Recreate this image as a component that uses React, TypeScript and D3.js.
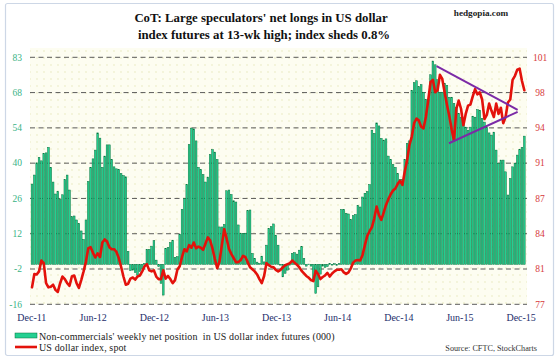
import * as d3 from 'd3';

// weekly CoT readings, first report 6 Dec 2011
const START = new Date(2011, 11, 6);

// non-commercials' net position in US dollar index futures (000)
const netLongs = [
  32.2, 35.8, 40.7, 42.9, 41.5, 44.5, 44.7, 46.9, 38.9, 33.0,
  28.2, 29.2, 26.0, 27.9, 34.0, 35.8, 29.8, 19.1, 19.4, 17.8,
  16.4, 13.4, 10.0, 17.8, 33.2, 38.9, 42.3, 45.8, 52.7, 50.6,
  38.9, 43.4, 47.9, 47.9, 42.0, 39.1, 38.3, 38.0, 36.4, 35.6,
  35.1, 5.2, -2.5, -2.3, -3.3, -4.3, -2.9, -1.6, 0.4, 6.0,
  6.0, 7.3, 9.5, 1.7, -0.9, -7.6, -12.3, 6.4, 6.8, 8.7,
  9.7, 2.8, 3.1, 12.1, 22.0, 26.3, 32.0, 48.0, 54.6, 54.3,
  49.5, 38.9, 38.0, 36.0, 33.0, 35.0, 44.0, 46.0, 45.0, 42.0,
  15.0, 15.0, 16.0, 29.5, 29.8, 28.0, 25.5, 25.0, 15.8, 12.5,
  12.4, 12.5, 21.5, 21.8, 4.4, 2.4, 0.9, 0.4, 3.3, 1.0,
  7.7, 14.4, 15.1, 16.2, 11.7, 7.7, -0.3, -5.0, -3.6, -2.3,
  -0.3, 4.4, 4.7, 4.1, 5.7, 7.1, 2.4, -0.7, 0.1, -0.7,
  -6.3, -11.6, -9.0, -3.9, -0.7, -1.2, -0.9, 0.3, -0.3, 0.3,
  -0.4, 0.3, 22.0, 22.0, 20.5, 20.2, 18.0, 19.5, 20.0, 23.6,
  23.0, 27.0, 28.5, 29.2, 32.0, 53.8, 52.5, 56.7, 55.5, 50.5,
  49.8, 50.3, 43.4, 42.0, 40.0, 38.9, 36.4, 34.0, 34.0, 42.0,
  48.5, 49.5, 69.8, 72.8, 73.6, 71.2, 72.0, 69.0, 66.2, 66.0,
  76.0, 81.5, 80.0, 74.0, 69.0, 69.0, 72.5, 71.8, 67.0, 67.0,
  64.5, 63.0, 60.5, 59.0, 56.5, 55.0, 53.8, 55.0, 59.4, 59.0,
  62.0, 61.8, 58.5, 57.0, 54.9, 52.7, 51.8, 53.0, 45.8, 40.5,
  41.8, 41.8, 37.1, 27.8, 34.4, 39.1, 40.5, 43.8, 46.0, 46.9,
  51.4,
];

// US dollar index, spot
const dollarIndex = [
  78.65, 79.95, 79.9, 80.2, 81.25, 81.0, 79.05, 78.65, 78.7, 78.9,
  78.4, 78.2, 79.05, 79.7, 79.45, 79.05, 78.8, 79.7, 79.8, 79.05,
  78.6, 79.35, 80.2, 81.15, 82.45, 82.55, 82.0, 81.55, 81.95, 81.6,
  83.0, 83.3, 83.1, 82.55, 82.35, 82.35, 82.1, 81.5, 80.65, 79.7,
  78.9, 79.0, 79.5, 79.6, 79.4, 79.7, 79.8, 80.2, 80.7, 80.9,
  80.3, 80.2, 80.3, 79.7, 79.45, 79.45, 80.3, 79.5, 79.75, 79.45,
  79.05, 79.35, 80.35, 80.7, 81.6, 82.35, 82.15, 82.75, 82.5, 83.0,
  82.45, 82.6, 82.5, 82.3, 82.9, 83.5, 83.2, 82.4, 81.4, 80.5,
  81.2, 82.8, 84.3, 83.4, 82.4, 81.9, 81.5, 81.1, 81.1, 81.3,
  81.7, 81.6, 81.1, 80.6, 80.4, 80.2, 79.9, 79.45, 79.05, 79.75,
  81.0, 80.8, 80.65, 80.6, 80.35, 80.2, 80.35, 80.6, 80.8, 80.9,
  81.0, 81.25, 81.05, 80.85, 80.6, 80.25, 80.0, 79.75, 79.6, 79.35,
  79.25, 80.25, 79.95, 79.45, 79.65, 79.8, 80.05, 79.7, 80.0, 80.2,
  80.35, 80.35, 80.4, 80.1, 79.95, 80.1, 80.5, 81.05, 81.25, 81.3,
  81.25, 81.8, 82.75, 83.65, 84.1, 84.5, 85.35, 86.5, 85.65, 85.2,
  85.9, 86.65, 87.2, 87.7, 88.05, 88.25, 88.7, 89.0, 88.6, 89.9,
  91.0, 92.5, 93.3, 94.6, 95.05, 94.85, 94.25, 94.1, 95.2, 96.8,
  98.6, 98.8, 97.6, 97.8, 99.3, 98.9, 97.6, 96.4, 95.3, 94.0,
  92.9, 96.0, 96.8, 96.0, 94.4, 95.5, 96.3, 96.4, 97.2, 97.9,
  97.4, 97.6, 96.9, 95.0, 95.4, 96.5, 95.8, 95.2, 96.5, 95.5,
  96.1, 94.6, 95.2, 96.6, 96.9, 98.8, 99.2, 99.8, 99.9, 98.7,
  97.8,
];

// converging trendlines drawn on the index
const wedgeUpper = [
  { date: new Date(2015, 2, 28), value: 100.15 },
  { date: new Date(2015, 10, 25), value: 95.9 },
];
const wedgeLower = [
  { date: new Date(2015, 4, 4), value: 92.65 },
  { date: new Date(2015, 10, 25), value: 95.7 },
];

const leftTickLabels = ['-16', '-2', '12', '26', '40', '54', '68', '83'];
const rightTickLabels = ['77', '81', '84', '87', '91', '94', '98', '101'];
const xTickDates = [
  new Date(2011, 11, 1), new Date(2012, 5, 1), new Date(2012, 11, 1),
  new Date(2013, 5, 1), new Date(2013, 11, 1), new Date(2014, 5, 1),
  new Date(2014, 11, 1), new Date(2015, 5, 1), new Date(2015, 11, 1),
];

const W = 560;
const H = 363;
const plot = { left: 30, right: 527, top: 57.3, bottom: 304.3 };
const FONT = '"Liberation Serif", "Times New Roman", serif';

interface Point {
  date: Date;
  value: number;
}

export default function App() {
  const weeks = netLongs.map((_, i) => d3.timeWeek.offset(START, i));

  const x = d3.scaleTime()
    .domain([d3.timeDay.offset(weeks[0], -6), d3.timeDay.offset(weeks[weeks.length - 1], 8)])
    .range([plot.left, plot.right]);

  const yLeft = d3.scaleLinear().domain([-16, 83]).range([plot.bottom, plot.top]);
  const yRight = d3.scaleLinear().domain([77, 101]).range([plot.bottom, plot.top]);

  // gridlines are evenly spaced; the printed labels are rounded
  const leftTicks = d3.range(leftTickLabels.length).map(i => -16 + (i * 99) / 7);
  const rightTicks = d3.range(rightTickLabels.length).map(i => 77 + (i * 24) / 7);

  const barW = 1.7;
  const indexPts: Point[] = weeks.map((d, i) => ({ date: d, value: dollarIndex[i] }));

  const line = d3.line<Point>()
    .x(d => x(d.date))
    .y(d => yRight(d.value));

  const fmt = d3.timeFormat('%b-%y');

  return (
    <svg width={W} height={H} style={{ position: 'absolute', left: 0, top: 0, background: '#fff' }}>
      <defs>
        <pattern id="dots" width="7" height="7" patternUnits="userSpaceOnUse">
          <rect width="7" height="7" fill="#fdfdf1" />
          <circle cx="2" cy="2" r="0.7" fill="#e4e6b4" />
        </pattern>
      </defs>

      <rect x={5.5} y={3.5} width={548} height={352} fill="#fff" stroke="#cdd7e6" strokeWidth={1.2} rx={2} />

      {/* title */}
      <text x={261} y={22} textAnchor="middle" fontFamily={FONT} fontWeight="bold" fontSize={12.8} fill="#111">
        CoT: Large speculators' net longs in US dollar
      </text>
      <text x={264} y={38.5} textAnchor="middle" fontFamily={FONT} fontWeight="bold" fontSize={12.8} fill="#111">
        index futures at 13-wk high; index sheds 0.8%
      </text>
      <text x={481} y={16} textAnchor="middle" fontFamily={FONT} fontWeight="bold" fontSize={9.2} fill="#222">
        hedgopia.com
      </text>

      {/* plot background */}
      <rect x={plot.left} y={48} width={plot.right - plot.left} height={plot.bottom - 48} fill="url(#dots)" />

      {/* gridlines */}
      {leftTicks.map((t, i) => (
        <line key={'g' + i} x1={plot.left} x2={plot.right} y1={yLeft(t)} y2={yLeft(t)}
          stroke="#4a4a4a" strokeWidth={0.9} strokeDasharray="5,3.5" />
      ))}

      {/* net position bars */}
      {netLongs.map((v, i) => {
        const y0 = yLeft(0);
        const y1 = yLeft(v);
        return (
          <rect key={'b' + i} x={x(weeks[i]) - barW / 2} y={Math.min(y0, y1)}
            width={barW} height={Math.max(0.6, Math.abs(y1 - y0))}
            fill="#24d092" stroke="#06733c" strokeWidth={0.5} />
        );
      })}

      {/* dollar index */}
      <path d={line(indexPts) ?? ''} fill="none" stroke="#e3120b" strokeWidth={2.6}
        strokeLinejoin="round" strokeLinecap="round" />

      {/* wedge */}
      <path d={line(wedgeUpper) ?? ''} fill="none" stroke="#7b2aa6" strokeWidth={2} />
      <path d={line(wedgeLower) ?? ''} fill="none" stroke="#7b2aa6" strokeWidth={2} />

      {/* left axis */}
      {leftTicks.map((t, i) => (
        <text key={'l' + i} x={22} y={yLeft(t) + 3.2} textAnchor="end" fontFamily={FONT}
          fontSize={9.5} fill="#39b386">{leftTickLabels[i]}</text>
      ))}

      {/* right axis */}
      {rightTicks.map((t, i) => (
        <text key={'r' + i} x={540} y={yRight(t) + 3.2} textAnchor="middle" fontFamily={FONT}
          fontSize={9.5} fill="#d63a3a">{rightTickLabels[i]}</text>
      ))}

      {/* x axis */}
      {xTickDates.map((d, i) => (
        <text key={'x' + i} x={x(d) + 1.5} y={321} textAnchor="middle" fontFamily={FONT}
          fontSize={10} fill="#1d2d6b">{fmt(d)}</text>
      ))}

      {/* legend */}
      <rect x={15} y={333} width={22} height={5} fill="#24d092" stroke="#06733c" strokeWidth={0.5} />
      <text x={39} y={340} fontFamily={FONT} fontSize={10} letterSpacing={0.12} fill="#222"
        style={{ whiteSpace: 'pre' }}>
        {"Non-commercials' weekly net position  in US dollar index futures (000)"}
      </text>
      <line x1={15} x2={37} y1={347} y2={347} stroke="#e3120b" strokeWidth={2.6} />
      <text x={39} y={350.5} fontFamily={FONT} fontSize={10} letterSpacing={0.12} fill="#222">
        US dollar index, spot
      </text>
      <text x={537} y={350.5} textAnchor="end" fontFamily={FONT} fontSize={8.2} fill="#333">
        Source: CFTC, StockCharts
      </text>
    </svg>
  );
}
